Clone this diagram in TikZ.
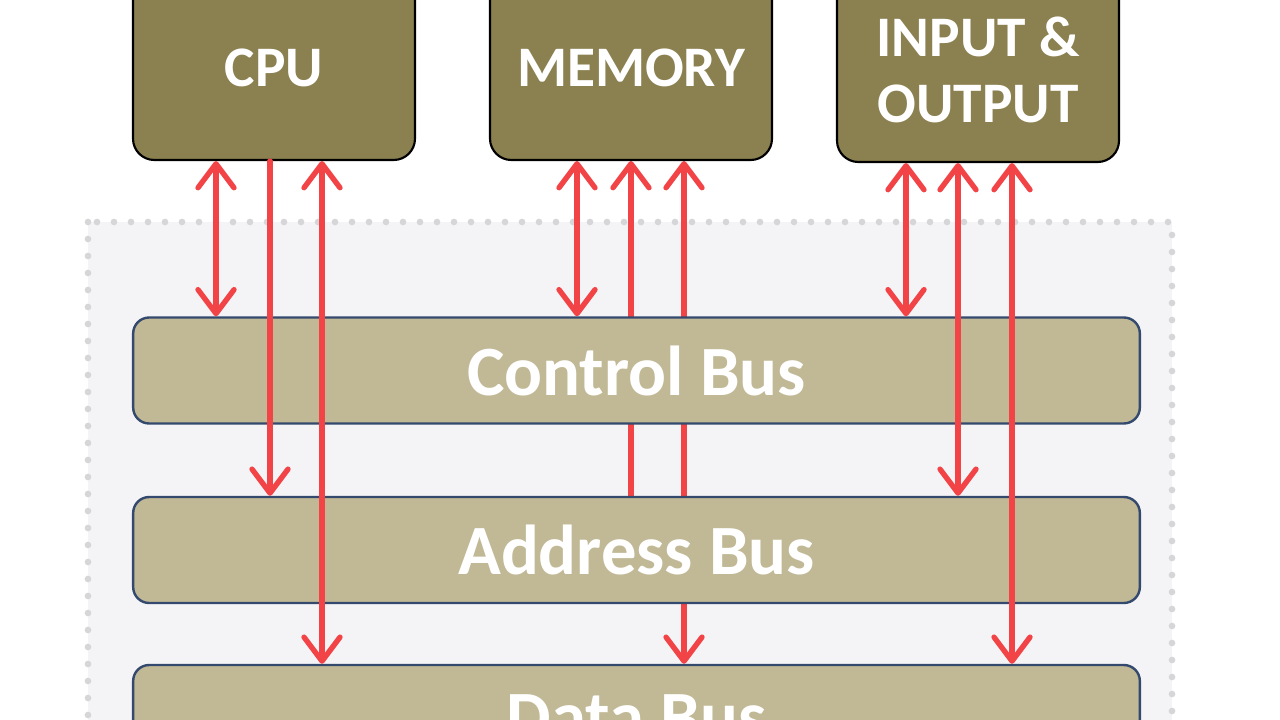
\documentclass[tikz,border=0pt]{standalone}
\usepackage{fontspec}
\setmainfont{Carlito}
\usetikzlibrary{arrows.meta, backgrounds}
\definecolor{unitolive}{HTML}{8B8050}
\definecolor{bustan}{HTML}{C1B996}
\definecolor{busedge}{HTML}{34496E}
\definecolor{linkred}{HTML}{F24446}
\definecolor{panelgray}{HTML}{F4F4F6}
\definecolor{dotgray}{HTML}{D6D6D8}
\begin{document}
\begin{tikzpicture}[x=0.75pt, y=-0.75pt, line width=0.5pt,
  unit/.style={draw=black, line width=1.6pt, fill=unitolive, rounded corners=16pt,
    minimum width=211.5pt, minimum height=138pt, inner sep=0pt, align=center,
    text=white, font=\bfseries\fontsize{43}{49.5}\selectfont},
  bus/.style={draw=busedge, line width=1.8pt, fill=bustan, rounded corners=12pt,
    minimum width=755pt, minimum height=79.5pt, inner sep=0pt,
    text=white, font=\bfseries\fontsize{53}{60}\selectfont},
  link/.style={draw=linkred, line width=4pt, line cap=round},
  >={Straight Barb[length=18pt, width=27pt, round]}]
  \useasboundingbox (0,0) rectangle (1280,720);
  \clip (0,0) rectangle (1280,720);
  \node[unit] (cpu) at (274,68) {CPU};
  \node[unit] (mem) at (631,68) {MEMORY};
  \node[unit] (io) at (978,70) {INPUT \&\\OUTPUT};
  \coordinate (c1) at (216,0);
  \coordinate (c2) at (270,0);
  \coordinate (c3) at (322,0);
  \coordinate (m1) at (577,0);
  \coordinate (m2) at (631,0);
  \coordinate (m3) at (684,0);
  \coordinate (i1) at (906,0);
  \coordinate (i2) at (958,0);
  \coordinate (i3) at (1012,0);
  \node[bus] (ctrl) at (636.5,370.5) {Control Bus};
  \node[bus] (addr) at (636.5,550) {Address Bus};
  \node[bus] (data) at (636.5,718) {Data Bus};
  \begin{scope}[on background layer]
    \fill[white] (0,0) rectangle (1280,720);
    \draw[fill=panelgray, draw=dotgray, line width=5pt, line cap=round, dash pattern=on 0pt off 12.75pt]
      (88,222) rectangle (1172,800);
    \draw[link, <->] (mem.south -| m1) -- (ctrl.north -| m1);
    \draw[link, <-] (mem.south -| m2) -- (addr.north -| m2);
    \draw[link, <->] (mem.south -| m3) -- (data.north -| m3);
  \end{scope}
  \draw[link, <->] (cpu.south -| c1) -- (ctrl.north -| c1);
  \draw[link, ->] (cpu.south -| c2) -- (addr.north -| c2);
  \draw[link, <->] (cpu.south -| c3) -- (data.north -| c3);
  \draw[link, <->] (io.south -| i1) -- (ctrl.north -| i1);
  \draw[link, <->] (io.south -| i2) -- (addr.north -| i2);
  \draw[link, <->] (io.south -| i3) -- (data.north -| i3);
\end{tikzpicture}
\end{document}
